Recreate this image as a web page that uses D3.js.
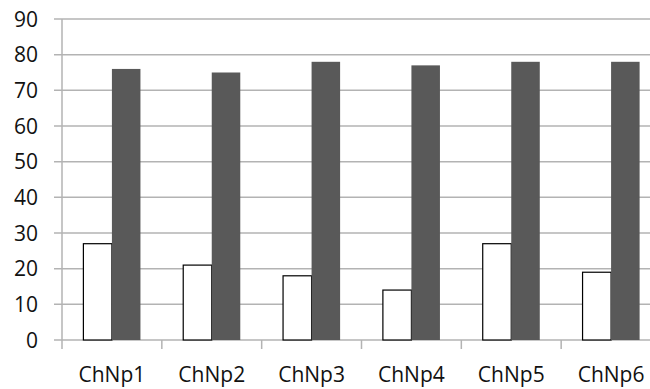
<!DOCTYPE html>
<html><head><meta charset="utf-8">
<script src="https://cdn.jsdelivr.net/npm/d3@7"></script>
<style>body{margin:0;background:#fff}svg{display:block}text{font-family:"Open Sans",sans-serif;fill:#111}</style>
</head><body>
<script>
const categories = ["ChNp1","ChNp2","ChNp3","ChNp4","ChNp5","ChNp6"];
const seriesA = [27,21,18,14,27,19];
const seriesB = [76,75,78,77,78,78];
const yTicks = [0,10,20,30,40,50,60,70,80,90];

const W = 650, H = 389;
const svg = d3.select("body").append("svg").attr("width", W).attr("height", H);
const x0 = 62, x1 = 661, yTop = 19, yBot = 340;
const x = d3.scaleBand().domain(categories).range([x0, x1]).paddingInner(0).paddingOuter(0);
const y = d3.scaleLinear().domain([0, 90]).range([yBot, yTop]);
const sub = d3.scaleBand().domain(["a","b"]).range([0, x.bandwidth()]).paddingInner(0).paddingOuter(0.75);

// gridlines
svg.append("g").selectAll("line").data(yTicks).join("line")
  .attr("x1", 54).attr("x2", W).attr("y1", d => y(d)).attr("y2", d => y(d))
  .attr("stroke", "#b3b3b3").attr("stroke-width", 1.5);
// y axis line
svg.append("line").attr("x1", x0).attr("x2", x0).attr("y1", yTop).attr("y2", yBot + 9)
  .attr("stroke", "#b3b3b3").attr("stroke-width", 1.5);
// x ticks at category boundaries
svg.append("g").selectAll("line").data(categories.slice(1)).join("line")
  .attr("x1", d => x(d)).attr("x2", d => x(d)).attr("y1", yBot).attr("y2", yBot + 9)
  .attr("stroke", "#b3b3b3").attr("stroke-width", 1.5);

// y labels
svg.append("g").selectAll("text").data(yTicks).join("text")
  .attr("x", 38).attr("y", d => y(d)).attr("dy", "0.36em").attr("text-anchor", "end")
  .attr("font-size", 21).text(d => d);

// bars
const g = svg.append("g");
g.selectAll("rect.a").data(categories).join("rect").attr("class","a")
  .attr("x", d => x(d) + sub("a")).attr("width", sub.bandwidth())
  .attr("y", (d,i) => y(seriesA[i])).attr("height", (d,i) => yBot - y(seriesA[i]))
  .attr("fill", "#fff").attr("stroke", "#000").attr("stroke-width", 1.2);
g.selectAll("rect.b").data(categories).join("rect").attr("class","b")
  .attr("x", d => x(d) + sub("b")).attr("width", sub.bandwidth())
  .attr("y", (d,i) => y(seriesB[i])).attr("height", (d,i) => yBot - y(seriesB[i]))
  .attr("fill", "#595959");

// x labels
svg.append("g").selectAll("text").data(categories).join("text")
  .attr("x", d => x(d) + x.bandwidth()/2).attr("y", 382).attr("text-anchor", "middle")
  .attr("font-size", 21).text(d => d);
</script>
</body></html>
